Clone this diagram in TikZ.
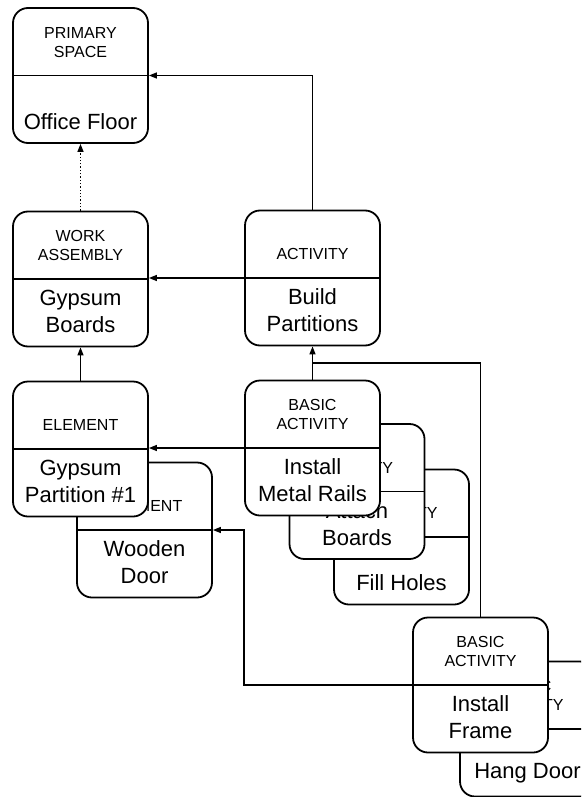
\documentclass[tikz,border=0pt]{standalone}
\usepackage{fontspec}
\setmainfont{Liberation Sans}
\usetikzlibrary{calc,arrows.meta}

\tikzset{
	card/.style={draw, line width=1.8pt, rounded corners=15pt, fill=white,
		minimum width=135pt, minimum height=135pt, inner sep=0pt},
	divider/.style={line width=1.6pt},
	typelabel/.style={font=\fontsize{16}{19}\selectfont, align=center, inner sep=0pt, anchor=south},
	namelabel/.style={font=\fontsize{22}{27}\selectfont, align=center, inner sep=0pt, anchor=south},
	link/.style={line width=1.3pt, -{Triangle[length=8pt,width=6pt]}},
}

\begin{document}
\begin{tikzpicture}[x=1pt,y=-1pt]
	
	% Page frame, same size as the scan
	\useasboundingbox (0,0) rectangle (581,797);
	\clip (0,0) rectangle (581,797);
	
	% Cards, the ones at the back first so the front ones cover them
	\foreach \n/\x/\y/\t/\v in {
		prim/80.5/75.5/{PRIMARY\\SPACE}/{Office Floor},
		work/80.5/279/{WORK\\ASSEMBLY}/{Gypsum\\Boards},
		act/312.5/278/{ACTIVITY}/{Build\\Partitions},
		door/144.5/530/{ELEMENT}/{Wooden\\Door},
		elem/80.5/449/{ELEMENT}/{Gypsum\\Partition \#1},
		holes/401.5/537/{BASIC\\ACTIVITY}/{Fill Holes},
		boards/357/491.5/{BASIC\\ACTIVITY}/{Attach\\Boards},
		rails/312.5/448/{BASIC\\ACTIVITY}/{Install\\Metal Rails},
		hang/527.5/729/{BASIC\\ACTIVITY}/{Hang Door},
		frame/480.5/685/{BASIC\\ACTIVITY}/{Install\\Frame}} {
		\node[card] (\n) at (\x,\y) {};
		\draw[divider] (\n.west) -- (\n.east);
		\node[typelabel] (\n-type) at ($(\n.center)+(0,-18)$) {\t};
		\node[namelabel] (\n-name) at ($(\n.south)+(0,-14)$) {\v};
	}
	
	% Links between the cards
	\coordinate (join) at ($(act.south)!0.5!(rails.north)$);
	\draw[link] (act.north) |- (prim.east);
	\draw[link, dotted] (work.north) -- (prim.south);
	\draw[link] (act.west) -- (act.west -| work.east);
	\draw[link] (elem.north) -- (work.south);
	\draw[link] (rails.west) -- (rails.west -| elem.east);
	\draw[link] (rails.north) -- (act.south);
	\draw[line width=1.3pt] (frame.north) |- (join);
	\draw[link] (frame.west) -- ++(-168,0) |- (door.east);
	
\end{tikzpicture}
\end{document}
